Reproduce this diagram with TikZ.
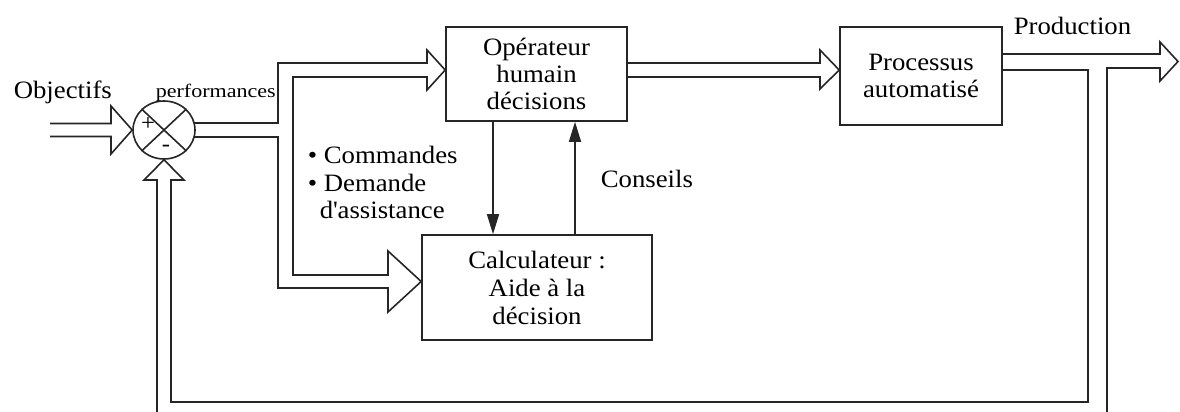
\documentclass[tikz,border=0pt]{standalone}
\usepackage{fontspec}
\setmainfont{Liberation Serif}[FakeStretch=1.07]
\newfontfamily\perffont{Liberation Serif}[FakeStretch=1.16]
\usetikzlibrary{arrows.meta,shapes.geometric,calc}
\begin{document}
\begin{tikzpicture}[x=1pt,y=-1pt, line width=1.6pt, line join=miter, color=black!85,
  box/.style={draw, rectangle, inner sep=0pt, align=center, text=black, font=\fontsize{25}{27}\selectfont},
  lbl/.style={inner sep=0pt, anchor=base west, text=black, font=\fontsize{25}{27}\selectfont},
  thinarrow/.style={-{Triangle[length=20pt,width=12pt]}}
]
\useasboundingbox (0,0) rectangle (1180,412);

% blocks
\node[box, minimum width=181pt, minimum height=94pt] (op) at (536.5,74) {Opérateur\\humain\\décisions};
\node[box, minimum width=162pt, minimum height=98pt] (proc) at (921,76) {Processus\\automatisé};
\node[box, minimum width=230pt, minimum height=105pt, font=\fontsize{25}{28}\selectfont] (calc) at (537,287.5) {Calculateur :\\Aide à la\\décision};

% comparator
\node[draw, ellipse, minimum width=62pt, minimum height=58pt, inner sep=0pt] (sum) at (164,130) {};
\draw (sum.north east) -- (sum.south west) (sum.north west) -- (sum.south east);
\node[inner sep=0pt, text=black, font=\fontsize{23}{23}\selectfont] (plus) at (148,124) {+};
\node[inner sep=0pt, text=black, font=\fontsize{23}{23}\selectfont] (minus) at (166,148) {-};

% input arrow
\coordinate (objin) at (50,130);
\draw ($(objin)+(0,-6.5)$) -- (111,123.5) -- (111,106) -- (sum.west) -- (111,154) -- (111,136.5) -- ($(objin)+(0,6.5)$);

% split towards operator and computer
\coordinate (opin) at ($(op.west)+(0,-4)$);
\coordinate (calcin) at ($(calc.west)+(0,-6)$);
\draw (194,123) -- (278,123) -- (278,63) -- (427,63) -- (427,50) -- (opin) -- (427,90) -- (427,77)
  -- (293,77) -- (293,275) -- (388,275) -- (388,251) -- (calcin) -- (388,312) -- (388,288)
  -- (278,288) -- (278,137) -- (194,137);

% operator -> process
\coordinate (procin) at ($(proc.west)+(0,-6)$);
\draw (op.east |- 0,63) -- (820,63) -- (820,50) -- (procin) -- (820,89) -- (820,77) -- (op.east |- 0,77);

% production output and outer feedback line
\coordinate (prodout) at (1178,61.5);
\draw (proc.east |- 0,54) -- (1160,54) -- (1160,42) -- (prodout) -- (1160,81) -- (1160,68) -- (1107,68) -- (1107,414);

% inner feedback line
\draw (proc.east |- 0,70) -- (1088,70) -- (1088,402) -- (171,402) -- (171,180) -- (184,180) -- (sum.south)
  -- (144,180) -- (157,180) -- (157,414);

% operator <-> computer
\draw[thinarrow] (op.south -| 493,0) -- (calc.north -| 493,0);
\draw[thinarrow] (calc.north -| 575,0) -- (op.south -| 575,0);

% labels
\node[lbl] (objl) at (13,98) {Objectifs};
\node[inner sep=0pt, anchor=base west, text=black, font=\perffont\fontsize{19}{19}\selectfont] (perf) at (155,97) {performances};
\node[lbl] (prodl) at (1013,35) {Production};
\node[lbl] (cons) at (600,187) {Conseils};
\node[lbl] (cmd) at (307,163) {\textbullet\ Commandes};
\node[lbl] (dem) at (307,191) {\textbullet\ Demande};
\node[lbl] (ass) at (319,218) {d\textquotesingle assistance};
\end{tikzpicture}
\end{document}
